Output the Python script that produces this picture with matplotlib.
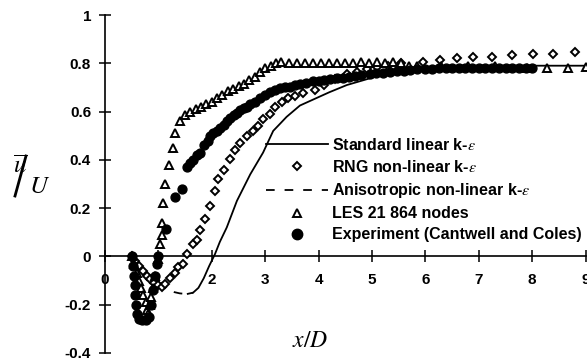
import matplotlib
matplotlib.use("Agg")
import matplotlib.pyplot as plt
from matplotlib.lines import Line2D

plt.rcParams["font.family"] = ["Liberation Sans", "DejaVu Sans"]
plt.rcParams["mathtext.fontset"] = "stix"

# Standard linear k-eps (solid line)
std_x = [1.55, 1.65, 1.75, 1.85, 1.95, 2.06, 2.15, 2.28, 2.47, 2.72, 2.96, 3.15, 3.28,
         3.4, 3.65, 3.9, 4.2, 4.53, 5.15, 5.6, 6.0, 7.0, 8.0, 9.0]
std_y = [-0.155, -0.15, -0.13, -0.09, -0.04, 0.01, 0.06, 0.12, 0.23, 0.34, 0.43, 0.52, 0.55,
         0.578, 0.625, 0.65, 0.68, 0.71, 0.75, 0.78, 0.785, 0.79, 0.79, 0.79]

# Anisotropic non-linear k-eps (dashed line)
ani_x = [0.5, 0.6, 0.7, 0.8, 0.9, 1.0, 1.1, 1.2, 1.3, 1.4, 1.5, 1.6, 1.65]
ani_y = [0.0, -0.025, -0.05, -0.075, -0.095, -0.113, -0.127, -0.14, -0.148, -0.153, -0.155, -0.155, -0.15]

# RNG non-linear k-eps (diamonds)
rng_x = [0.5, 0.57, 0.64, 0.71, 0.78, 0.85, 0.92, 0.99, 1.06, 1.12, 1.22, 1.31, 1.37, 1.47,
         1.53, 1.65, 1.72, 1.78, 1.87, 1.97, 2.06, 2.12, 2.22, 2.34, 2.43, 2.53, 2.65, 2.78,
         2.87, 2.96, 3.09, 3.18, 3.31, 3.43, 3.55, 3.71, 3.93, 4.1, 4.3, 4.53, 4.72, 4.9,
         5.1, 5.3, 5.55, 5.96, 6.27, 6.59, 6.9, 7.24, 7.62, 8.02, 8.39, 8.8]
rng_y = [0.0, -0.02, -0.04, -0.06, -0.08, -0.095, -0.11, -0.12, -0.127, -0.113, -0.09, -0.07,
         -0.044, -0.03, 0.01, 0.05, 0.07, 0.11, 0.156, 0.21, 0.27, 0.32, 0.357, 0.405, 0.44,
         0.47, 0.50, 0.52, 0.54, 0.57, 0.59, 0.62, 0.64, 0.655, 0.665, 0.675, 0.69, 0.71,
         0.735, 0.755, 0.765, 0.775, 0.785, 0.79, 0.80, 0.806, 0.815, 0.82, 0.825, 0.825,
         0.835, 0.84, 0.84, 0.845]

# LES 21 864 nodes (triangles)
les_x = [0.5, 0.55, 0.6, 0.64, 0.68, 0.72, 0.76, 0.79, 0.81, 0.84, 0.87, 0.9, 0.94, 1.0,
         1.03, 1.06, 1.07, 1.09, 1.12, 1.19, 1.28, 1.31, 1.4, 1.5, 1.6, 1.7, 1.8, 1.9, 2.0,
         2.1, 2.2, 2.3, 2.4, 2.5, 2.6, 2.7, 2.8, 2.9, 3.0, 3.1, 3.2, 3.3, 3.45, 3.6, 3.75,
         3.9, 4.05, 4.2, 4.35, 4.5, 4.65, 4.8, 4.95, 5.1, 5.25, 5.4, 5.55, 5.7, 5.85, 6.3,
         6.8, 7.3, 7.9, 8.27, 8.67, 9.0]
les_y = [0.0, -0.03, -0.07, -0.1, -0.13, -0.16, -0.19, -0.22, -0.24, -0.2, -0.17, -0.13,
         -0.08, -0.01, 0.05, 0.09, 0.14, 0.22, 0.30, 0.38, 0.45, 0.51, 0.56, 0.585, 0.60,
         0.61, 0.62, 0.63, 0.64, 0.655, 0.67, 0.685, 0.695, 0.705, 0.715, 0.73, 0.745, 0.765,
         0.78, 0.79, 0.80, 0.805, 0.80, 0.80, 0.80, 0.80, 0.80, 0.80, 0.80, 0.80, 0.80, 0.805,
         0.80, 0.805, 0.80, 0.805, 0.80, 0.79, 0.79, 0.79, 0.79, 0.79, 0.78, 0.78, 0.78, 0.785]

# Experiment (Cantwell and Coles) (filled circles)
exp_x = [0.5, 0.52, 0.54, 0.56, 0.57, 0.58, 0.6, 0.64, 0.7, 0.76, 0.82, 0.86, 0.9, 0.94,
         0.97, 1.0, 1.15, 1.31, 1.44, 1.53, 1.6, 1.65, 1.72, 1.78, 1.85, 1.92, 1.97, 2.03,
         2.1, 2.15, 2.22, 2.28, 2.34, 2.41, 2.47, 2.53, 2.6, 2.65, 2.72, 2.8, 2.9, 3.0, 3.09,
         3.18, 3.28, 3.37, 3.46, 3.55, 3.65, 3.77, 3.9, 4.0, 4.1, 4.22, 4.34, 4.45, 4.56, 4.68,
         4.8, 4.96, 5.08, 5.2, 5.33, 5.46, 5.59, 5.72, 5.85, 6.0, 6.12, 6.25, 6.38, 6.5, 6.62,
         6.75, 6.88, 7.0, 7.12, 7.25, 7.38, 7.5, 7.62, 7.75, 7.88, 8.0]
exp_y = [0.0, -0.04, -0.08, -0.12, -0.16, -0.2, -0.24, -0.26, -0.265, -0.265, -0.25, -0.2,
         -0.14, -0.08, -0.03, 0.0, 0.115, 0.246, 0.28, 0.37, 0.385, 0.40, 0.42, 0.43, 0.46,
         0.48, 0.5, 0.51, 0.52, 0.53, 0.545, 0.56, 0.575, 0.585, 0.595, 0.605, 0.615, 0.62,
         0.63, 0.64, 0.655, 0.67, 0.68, 0.69, 0.696, 0.70, 0.703, 0.71, 0.716, 0.72, 0.725,
         0.728, 0.73, 0.733, 0.737, 0.74, 0.743, 0.746, 0.75, 0.755, 0.758, 0.76, 0.763, 0.767,
         0.77, 0.773, 0.775, 0.777, 0.778, 0.78, 0.78, 0.78, 0.78, 0.78, 0.78, 0.78, 0.78,
         0.78, 0.78, 0.78, 0.78, 0.78, 0.78, 0.78]

x_ticks = [0, 1, 2, 3, 4, 5, 6, 7, 8, 9]
y_ticks = [-0.4, -0.2, 0, 0.2, 0.4, 0.6, 0.8, 1]
y_tick_labels = ["-0.4", "-0.2", "0", "0.2", "0.4", "0.6", "0.8", "1"]

labels = [r"Standard linear k-$\varepsilon$",
          r"RNG non-linear k-$\varepsilon$",
          r"Anisotropic non-linear k-$\varepsilon$",
          "LES 21 864 nodes",
          "Experiment (Cantwell and Coles)"]

fig = plt.figure(figsize=(5.87, 3.63), dpi=100)
ax = fig.add_axes([105 / 587, 10 / 363, 480.6 / 587, 338 / 363])

ax.plot(std_x, std_y, color="black", lw=1.3, zorder=3)
ax.plot(ani_x, ani_y, color="black", lw=1.3, ls=(0, (4.8, 5.5)), zorder=3)
ax.plot(rng_x, rng_y, ls="none", marker="D", ms=4.5, mfc="white", mec="black", mew=1.4, zorder=4)
ax.plot(les_x, les_y, ls="none", marker="^", ms=6, mfc="white", mec="black", mew=1.4, zorder=4)
ax.plot(exp_x, exp_y, ls="none", marker="o", ms=6.4, mfc="black", mec="black", zorder=5)

ax.set_xlim(0, 9)
ax.set_ylim(-0.4, 1)
ax.spines["top"].set_visible(False)
ax.spines["right"].set_visible(False)
ax.spines["bottom"].set_position(("data", 0))
ax.spines["left"].set_linewidth(1.2)
ax.spines["bottom"].set_linewidth(1.2)
ax.set_xticks(x_ticks)
ax.set_yticks(y_ticks)
ax.set_yticklabels(y_tick_labels)
ax.tick_params(direction="inout", length=8, width=1.1, labelsize=11)
ax.tick_params(axis="x", pad=8)
ax.tick_params(axis="y", pad=6)
for t in ax.get_xticklabels() + ax.get_yticklabels():
    t.set_fontweight("bold")

handles = [
    Line2D([], [], color="black", lw=1.3),
    Line2D([], [], ls="none", marker="D", ms=4.5, mfc="white", mec="black", mew=1.4),
    Line2D([], [], color="black", lw=1.3, ls=(0, (4.8, 5.5))),
    Line2D([], [], ls="none", marker="^", ms=6, mfc="white", mec="black", mew=1.4),
    Line2D([], [], ls="none", marker="o", ms=7.5, mfc="black", mec="black"),
]
leg = fig.legend(handles, labels, loc="upper left", bbox_to_anchor=(266 / 587, 1 - 137 / 363),
                 frameon=False, borderpad=0, borderaxespad=0, handlelength=3.9,
                 handletextpad=0.25, labelspacing=0.38, numpoints=1,
                 prop={"family": "Liberation Sans", "weight": "bold", "size": 11.5})

# y label: u-bar over U
fig.text(20 / 587, 1 - 166 / 363, r"$\overline{u}$", fontsize=18, ha="center", va="center")
fig.add_artist(Line2D([15 / 587, 26 / 587], [1 - 196 / 363, 1 - 156 / 363],
                      color="black", lw=2, transform=fig.transFigure))
fig.text(40 / 587, 1 - 186 / 363, r"$U$", fontsize=18, ha="center", va="center")

fig.text(310 / 587, 1 - 341 / 363, r"$x/D$", fontsize=17, ha="center", va="center")

fig.savefig("out.png", dpi=100)
